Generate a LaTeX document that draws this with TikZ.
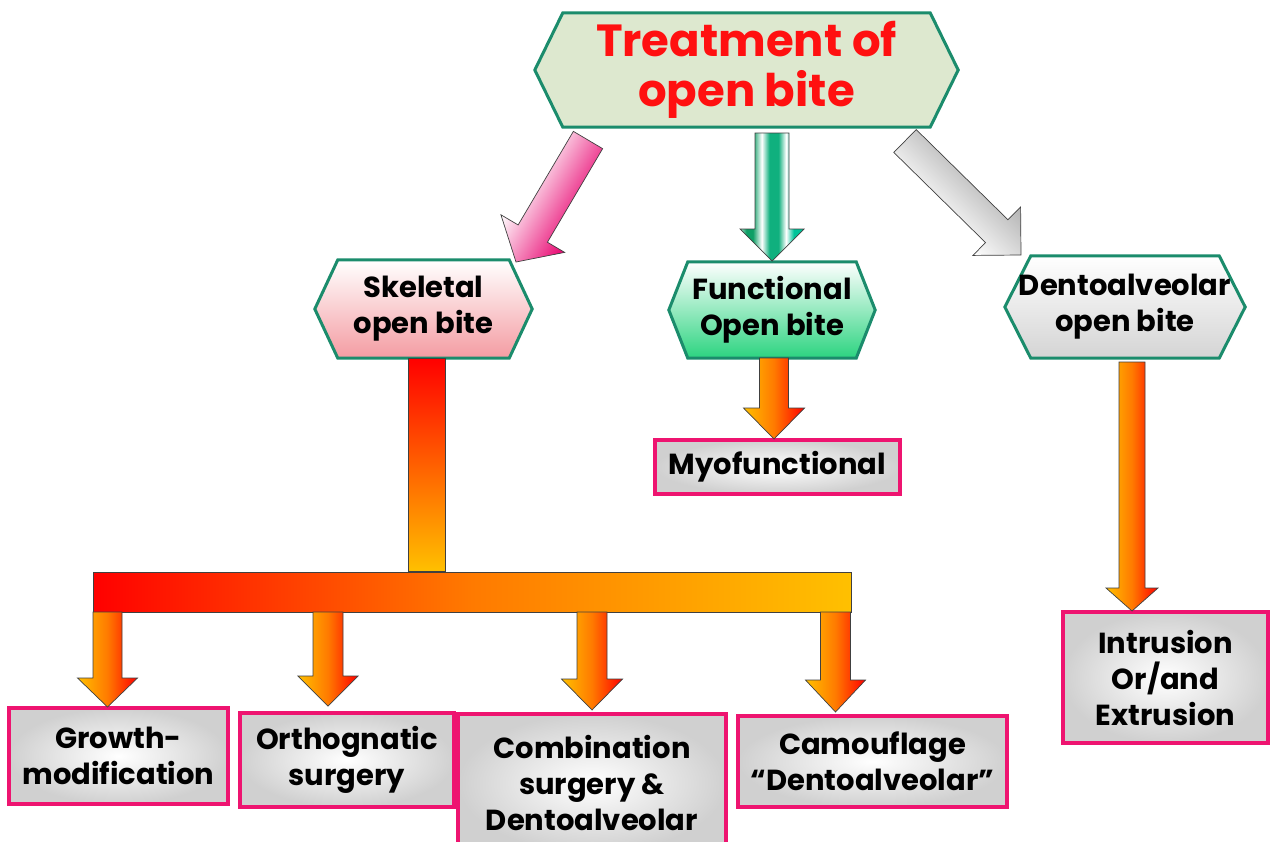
\documentclass[tikz,border=0pt]{standalone}
\usepackage{fontspec}
\setmainfont{Poppins}
\usetikzlibrary{calc}
\pgfdeclarelayer{background}
\pgfsetlayers{background,main}
\definecolor{hexline}{HTML}{1B8C6C}
\definecolor{boxline}{HTML}{EE1470}
\definecolor{ttlred}{HTML}{FF1010}
\definecolor{ored}{HTML}{FF0000}
\definecolor{oyel}{HTML}{FFC000}
\definecolor{omid}{HTML}{FF7A00}
\definecolor{pinkar}{HTML}{E8006E}
\definecolor{topfill}{HTML}{DDE8CF}
\definecolor{skelpink}{HTML}{F49CA2}
\definecolor{funcgreen}{HTML}{2CD480}
\definecolor{dentogray}{HTML}{D4D4D4}
\definecolor{boxgray}{HTML}{D0D0D0}
\definecolor{gA}{HTML}{A8E0C8}
\definecolor{gB}{HTML}{0E9F66}
\definecolor{gC}{HTML}{10B07E}
\definecolor{gD}{HTML}{00C49A}
\pgfdeclareverticalshading{greenstripe}{100bp}{color(0bp)=(gA); color(25bp)=(gA); color(30bp)=(gB); color(35bp)=(gB); color(42bp)=(white); color(48bp)=(gC); color(55bp)=(gC); color(61bp)=(white); color(67bp)=(gD); color(75bp)=(gD); color(100bp)=(gD)}
\newcommand\lblfont{\fontsize{29}{36}\selectfont\bfseries}
\newcommand\ttlfont{\fontsize{45}{50}\selectfont\bfseries}
\newcommand\hexbg[3]{%
  \begin{pgfonlayer}{background}
    \path[#3] (#1.west) -- ($(#1.north west)+(#2,0)$) -- ($(#1.north east)+(-#2,0)$)
      -- (#1.east) -- ($(#1.south east)+(-#2,0)$) -- ($(#1.south west)+(#2,0)$) -- cycle;
  \end{pgfonlayer}}
\newcommand\fatarrow[6]{%
  \pgfpointdiff{\pgfpointanchor{#1}{center}}{\pgfpointanchor{#2}{center}}%
  \pgfgetlastxy{\fadx}{\fady}%
  \pgfmathsetmacro\faang{atan2(\fady,\fadx)}%
  \pgfmathsetmacro\falen{veclen(\fadx,\fady)}%
  \pgfmathsetmacro\fabase{\falen-#5}%
  \begin{scope}[transform canvas={shift={(#1)},rotate=\faang}]
    \path[#6] (0pt,#3pt) -- (\fabase pt,#3pt) -- (\fabase pt,#4pt) -- (\falen pt,0pt)
      -- (\fabase pt,-#4pt) -- (\fabase pt,-#3pt) -- (0pt,-#3pt) -- cycle;
  \end{scope}}
\begin{document}
\begin{tikzpicture}[x=1pt,y=-1pt,
  hexnode/.style={inner sep=0pt, align=center, font=\lblfont},
  tbox/.style={draw=boxline, line width=3.5pt, inner color=white, outer color=boxgray,
    align=center, inner sep=0pt, font=\lblfont},
  orarrow/.style={draw=black!75, line width=0.7pt, bottom color=oyel, top color=ored, middle color=omid},
  hexfill/.style={draw=hexline, line width=3pt}]
\useasboundingbox (0,0) rectangle (1271,841);
\begin{pgfonlayer}{background}
\fill[white] (0,0) rectangle (1271,841);
\end{pgfonlayer}

% hexagon nodes
\node[hexnode, minimum width=423, minimum height=114, text=ttlred, font=\ttlfont] (top) at (746.5,70) {Treatment of\\open bite};
\node[hexnode, minimum width=217, minimum height=98] (skel) at (423.5,309) {Skeletal\\open bite};
\node[hexnode, minimum width=206, minimum height=96] (func) at (772,310) {Functional\\Open bite};
\node[hexnode, minimum width=240, minimum height=102] (dento) at (1125,307) {Dentoalveolar\\open bite};
\hexbg{top}{28}{hexfill, fill=topfill}
\hexbg{skel}{23}{hexfill, top color=white, bottom color=skelpink}
\hexbg{func}{19}{hexfill, top color=white, bottom color=funcgreen}
\hexbg{dento}{26}{hexfill, top color=white, bottom color=dentogray}

% boxes
\node[tbox, minimum width=245, minimum height=54] (myo) at (777.5,467) {Myofunctional};
\node[tbox, minimum width=219, minimum height=96] (growth) at (118.5,756) {Growth-\\modification};
\node[tbox, minimum width=214, minimum height=94] (ortho) at (347,760) {Orthognatic\\surgery};
\node[tbox, minimum width=268, minimum height=138] (comb) at (592,783) {Combination\\surgery \&\\Dentoalveolar};
\node[tbox, minimum width=269, minimum height=91] (camo) at (872.5,761.5) {Camouflage\\``Dentoalveolar''};
\node[tbox, minimum width=205, minimum height=131] (intr) at (1165.5,677.5) {Intrusion\\Or/and\\Extrusion};

% bar and trunk
\node[draw=black!75, line width=0.7pt, minimum width=758, minimum height=40, inner sep=0pt,
  left color=ored, right color=oyel, middle color=omid] (bar) at (472,592) {};
\path[draw=black!75, line width=0.7pt, top color=ored, bottom color=oyel]
  ($(skel.south)+(-15.5,0)$) rectangle ($(bar.north -| skel.south)+(21.5,0)$);

% arrows from the title
\coordinate (pkS) at (588,140); \coordinate (pkT) at (516,262);
\coordinate (grS) at (772,133); \coordinate (grT) at (772,261);
\coordinate (gyS) at (905,141); \coordinate (gyT) at (1021,255);
\fatarrow{pkS}{pkT}{17}{37}{33}{draw=black!75, line width=0.7pt, top color=pinkar, bottom color=white}
\fatarrow{grS}{grT}{17}{32}{32}{draw=black!75, line width=0.7pt, shade, shading=greenstripe}
\fatarrow{gyS}{gyT}{16}{34}{34}{draw=black!75, line width=0.7pt, top color=gray!60, bottom color=white}

% arrows to the boxes
\coordinate (myS) at (774,358); \coordinate (myT) at (774,439);
\coordinate (inS) at (1132,362); \coordinate (inT) at (1132,611);
\fatarrow{myS}{myT}{14.5}{30.5}{31}{orarrow}
\fatarrow{inS}{inT}{13}{26}{23}{orarrow}

\coordinate (b1) at (107.5,612); \coordinate (t1) at (107.5,707);
\coordinate (b2) at (328,612);   \coordinate (t2) at (328,706);
\coordinate (b3) at (592,612);   \coordinate (t3) at (592,710);
\coordinate (b4) at (835.5,612); \coordinate (t4) at (835.5,712);
\fatarrow{b1}{t1}{14.5}{30}{29}{orarrow}
\fatarrow{b2}{t2}{15}{30}{30}{orarrow}
\fatarrow{b3}{t3}{15}{30.5}{31}{orarrow}
\fatarrow{b4}{t4}{15}{30}{32}{orarrow}
\end{tikzpicture}
\end{document}
